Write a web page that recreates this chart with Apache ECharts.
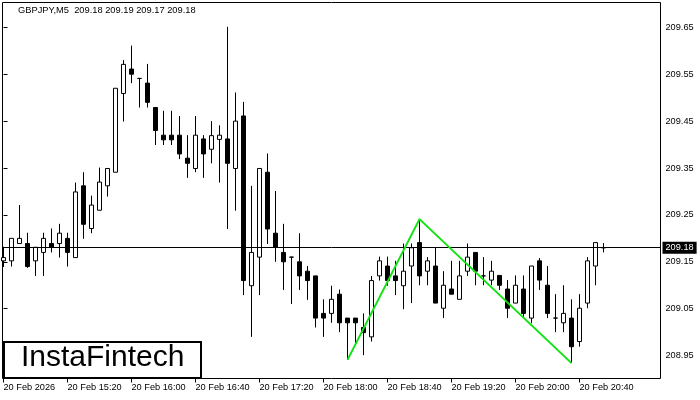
<!DOCTYPE html>
<html><head><meta charset="utf-8">
<script src="https://cdn.jsdelivr.net/npm/echarts@6/dist/echarts.min.js"></script>
<style>html,body{margin:0;padding:0;background:#fff}#c{width:700px;height:400px}</style>
</head><body><div id="c"></div>
<script>
const symbolName = 'GBPJPY,M5';
const lastQuote = ['209.18', '209.19', '209.17', '209.18'];
const opens = [209.152,209.152,209.189,209.189,209.152,209.170,209.189,209.189,209.200,209.159,
  209.312,209.221,209.260,209.312,209.341,209.509,209.561,209.541,209.531,209.479,
  209.420,209.420,209.420,209.371,209.349,209.412,209.390,209.411,209.412,209.349,
  209.461,209.099,209.160,209.341,209.211,209.170,209.160,209.150,209.130,209.120,
  209.040,209.040,209.081,209.030,209.030,209.010,208.990,209.120,209.141,209.120,
  209.099,209.141,209.191,209.130,209.141,209.051,209.092,209.070,209.130,209.170,
  209.120,209.111,209.121,209.092,209.062,209.092,209.030,209.152,209.100,209.030,
  209.020,209.030,208.980,209.062,209.141,209.180];
const closes = [209.159,209.200,209.200,209.140,209.181,209.200,209.181,209.211,209.170,209.299,
  209.230,209.271,209.320,209.349,209.520,209.571,209.550,209.541,209.490,209.430,
  209.410,209.410,209.380,209.360,209.420,209.380,209.419,209.420,209.360,209.450,
  209.110,209.170,209.349,209.220,209.181,209.150,209.160,209.120,209.110,209.030,
  209.030,209.070,209.020,209.020,209.020,208.999,209.110,209.152,209.110,209.110,
  209.130,209.180,209.120,209.152,209.062,209.100,209.081,209.120,209.160,209.130,
  209.120,209.130,209.100,209.051,209.100,209.040,209.141,209.111,209.040,209.030,
  209.040,208.969,209.051,209.152,209.191,209.180];
const lows = [209.139,209.140,209.189,209.137,209.120,209.120,209.170,209.159,209.140,209.159,
  209.199,209.211,209.260,209.289,209.341,209.449,209.531,209.479,209.479,209.399,
  209.399,209.399,209.369,209.329,209.341,209.329,209.360,209.319,209.220,209.259,
  209.079,208.990,209.079,209.188,209.150,209.090,209.060,209.090,209.069,209.010,
  208.990,209.020,209.000,208.941,208.976,208.951,208.980,209.110,209.099,209.079,
  209.049,209.062,209.100,209.100,209.062,209.030,209.081,209.070,209.120,209.100,
  209.100,209.100,209.090,209.030,209.062,209.030,209.019,209.090,209.030,209.000,
  209.000,208.934,208.969,209.051,209.100,209.170];
const highs = [209.182,209.200,209.271,209.212,209.181,209.212,209.221,209.231,209.212,209.319,
  209.341,209.291,209.351,209.350,209.520,209.580,209.611,209.541,209.572,209.479,
  209.472,209.472,209.461,209.420,209.461,209.420,209.450,209.441,209.651,209.511,
  209.491,209.312,209.349,209.381,209.301,209.231,209.160,209.211,209.141,209.120,
  209.070,209.099,209.091,209.030,209.030,209.040,209.120,209.161,209.161,209.152,
  209.189,209.189,209.241,209.160,209.180,209.130,209.152,209.152,209.189,209.170,
  209.160,209.152,209.121,209.111,209.121,209.121,209.141,209.158,209.141,209.081,
  209.100,209.070,209.081,209.160,209.191,209.190];
const tickIndex = [0, 8, 16, 24, 32, 40, 48, 56, 64, 72];
const tickLabels = ['20 Feb 2026','20 Feb 15:20','20 Feb 16:00','20 Feb 16:40','20 Feb 17:20',
  '20 Feb 18:00','20 Feb 18:40','20 Feb 19:20','20 Feb 20:00','20 Feb 20:40'];
const priceTicks = [208.95, 209.05, 209.15, 209.25, 209.35, 209.45, 209.55, 209.65];
const currentPrice = 209.18;
const patternIndex = [43, 52, 71];
const patternPrice = [208.941, 209.241, 208.934];
const logoText = 'InstaFintech';

const FONT = 'Liberation Sans';
const candleData = opens.map((o, i) => [i, o, closes[i], lows[i], highs[i]]);
const patternData = patternIndex.map((x, i) => [x, patternPrice[i]]);

const chart = echarts.init(document.getElementById('c'), null, {renderer: 'canvas'});
chart.setOption({
  animation: false,
  backgroundColor: '#fff',
  title: {
    text: symbolName + '  ' + lastQuote.join(' '),
    left: 18, top: 6, padding: 0,
    textStyle: {fontFamily: FONT, fontSize: 9.3, fontWeight: 'normal', color: '#000'}
  },
  grid: {
    left: 2.5, right: 39.5, top: 2.5, bottom: 21.5,
    show: true, borderColor: '#000', borderWidth: 1, backgroundColor: 'transparent',
    outerBoundsMode: 'none', containLabel: false
  },
  xAxis: {
    type: 'value', min: -0.125, max: 82.125,
    axisLine: {show: false},
    splitLine: {show: false},
    axisTick: {show: true, customValues: tickIndex, length: 4, lineStyle: {color: '#000', width: 1}},
    axisLabel: {
      show: true, customValues: tickIndex, align: 'left', margin: 4,
      fontFamily: FONT, fontSize: 9.2, color: '#000',
      formatter: v => tickLabels[tickIndex.indexOf(Math.round(v))] || ''
    }
  },
  yAxis: {
    type: 'value', position: 'right', min: 208.9012, max: 209.7029, scale: true,
    axisLine: {show: false},
    splitLine: {show: false},
    axisTick: {show: true, customValues: priceTicks, length: 4, lineStyle: {color: '#000', width: 1}},
    axisLabel: {
      show: true, customValues: priceTicks, margin: 5,
      fontFamily: FONT, fontSize: 9.2, color: '#000',
      formatter: v => v.toFixed(2)
    }
  },
  series: [
    {
      type: 'candlestick',
      data: candleData,
      barWidth: 4,
      clip: false,
      silent: true,
      itemStyle: {color: '#fff', color0: '#000', borderColor: '#000', borderColor0: '#000', borderWidth: 1},
      markLine: {
        silent: true,
        symbol: ['none', 'none'],
        animation: false,
        lineStyle: {color: '#000', width: 1, type: 'solid'},
        label: {
          show: true, position: 'end', distance: 2,
          formatter: currentPrice.toFixed(2),
          backgroundColor: '#000', color: '#fff', padding: [2, 3, 1, 3],
          fontFamily: FONT, fontSize: 9.2
        },
        emphasis: {disabled: true},
        data: [{yAxis: currentPrice}]
      }
    },
    {
      type: 'line',
      data: patternData,
      symbol: 'none',
      silent: true,
      z: 5,
      lineStyle: {color: '#11e311', width: 2}
    }
  ],
  graphic: [
    {
      type: 'rect', left: 3, top: 341, z: 100,
      shape: {width: 197, height: 36},
      style: {fill: '#fff', stroke: '#000', lineWidth: 2}
    },
    {
      type: 'text', left: 21, top: 343, z: 101,
      style: {text: logoText, fill: '#000', font: '500 30px "Liberation Sans"'}
    }
  ]
});
</script>
</body></html>
